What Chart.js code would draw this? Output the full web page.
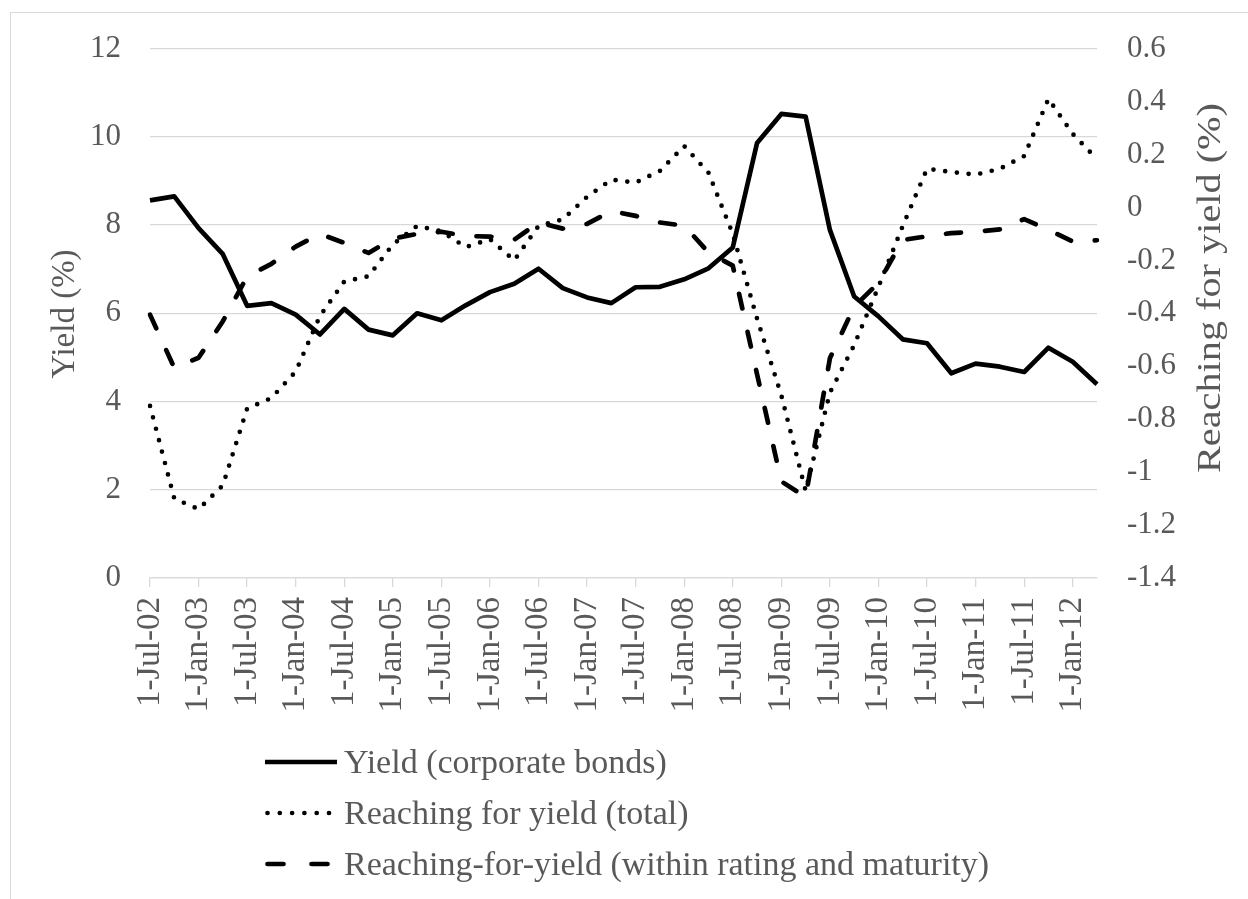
<!DOCTYPE html>
<html>
<head>
<meta charset="utf-8">
<title>Yield and reaching for yield</title>
<script src="https://cdn.jsdelivr.net/npm/chart.js@4.4.1/dist/chart.umd.min.js"></script>
<style>
  html, body { margin: 0; padding: 0; background: #fff; overflow: hidden; }
  #wrap { position: relative; width: 1248px; height: 899px; overflow: hidden; }
  #frame { position: absolute; left: 10px; top: 12px; width: 1300px; height: 1000px; border: 1.5px solid #d9d9d9; box-sizing: border-box; }
  #chart { position: absolute; left: 0; top: 0; }
  #legend { position: absolute; left: 263px; top: 736px; font-family: "Liberation Serif", serif; color: #595959; }
  .row { display: flex; align-items: center; height: 51px; }
  .row svg { flex: none; }
  .row span { font-size: 34px; white-space: nowrap; margin-left: 5px; }
</style>
</head>
<body>
<div id="wrap">
  <div id="frame"></div>
  <canvas id="chart" width="1248" height="740"></canvas>
  <div id="legend"></div>
</div>
<script>
// quarterly observations, labelled every half year on the axis
const categories = [
  "1-Jul-02", "1-Oct-02", "1-Jan-03", "1-Apr-03", "1-Jul-03", "1-Oct-03", "1-Jan-04", "1-Apr-04",
  "1-Jul-04", "1-Oct-04", "1-Jan-05", "1-Apr-05", "1-Jul-05", "1-Oct-05", "1-Jan-06", "1-Apr-06",
  "1-Jul-06", "1-Oct-06", "1-Jan-07", "1-Apr-07", "1-Jul-07", "1-Oct-07", "1-Jan-08", "1-Apr-08",
  "1-Jul-08", "1-Oct-08", "1-Jan-09", "1-Apr-09", "1-Jul-09", "1-Oct-09", "1-Jan-10", "1-Apr-10",
  "1-Jul-10", "1-Oct-10", "1-Jan-11", "1-Apr-11", "1-Jul-11", "1-Oct-11", "1-Jan-12", "1-Apr-12"
];

// Yield (corporate bonds), left axis, %
const yieldCorp = [
  8.56, 8.65, 7.93, 7.34, 6.17, 6.23, 5.97, 5.52, 6.10, 5.63,
  5.50, 6.00, 5.84, 6.18, 6.48, 6.67, 7.01, 6.57, 6.36, 6.23,
  6.59, 6.60, 6.77, 7.02, 7.49, 9.86, 10.52, 10.46, 7.89, 6.38,
  5.93, 5.41, 5.32, 4.64, 4.86, 4.79, 4.67, 5.22, 4.90, 4.39
];

// Reaching for yield (total), right axis, %
const rfyTotal = [
  -0.75, -1.10, -1.14, -1.05, -0.76, -0.72, -0.62, -0.41, -0.28, -0.26,
  -0.14, -0.07, -0.09, -0.15, -0.12, -0.20, -0.07, -0.045, 0.04, 0.105,
  0.094, 0.138, 0.232, 0.131, -0.10, -0.42, -0.71, -1.07, -0.70, -0.52,
  -0.30, -0.07, 0.146, 0.134, 0.124, 0.146, 0.194, 0.41, 0.278, 0.182
];

// Reaching-for-yield (within rating and maturity), right axis, %
const rfyWithin = [
  -0.405, -0.606, -0.568, -0.43, -0.261, -0.213, -0.148, -0.10, -0.134, -0.172,
  -0.118, -0.10, -0.092, -0.108, -0.11, -0.122, -0.057, -0.08, -0.062, -0.014,
  -0.032, -0.057, -0.069, -0.17, -0.22, -0.63, -1.035, -1.094, -0.57, -0.375,
  -0.285, -0.123, -0.109, -0.097, -0.092, -0.083, -0.044, -0.085, -0.129, -0.124
];

const leftTitle = "Yield (%)";
const rightTitle = "Reaching for yield (%)";

const textColor = "#595959";
const gridColor = "#d9d9d9";
const serif = "'Liberation Serif', serif";

// axis titles, both read bottom to top
const axisTitles = {
  id: "axisTitles",
  afterDraw(chart) {
    const c = chart.ctx;
    const area = chart.chartArea;
    c.save();
    c.fillStyle = textColor;
    c.textAlign = "center";
    c.textBaseline = "middle";

    c.font = "33px " + serif;
    c.save();
    c.translate(area.left - 85, 314);
    c.rotate(-Math.PI / 2);
    c.fillText(leftTitle, 0, 0);
    c.restore();

    // the right title runs longer in the original, stretch it along its length
    c.font = "34px " + serif;
    const w = c.measureText(rightTitle).width;
    c.save();
    c.translate(area.right + 114, 288);
    c.rotate(-Math.PI / 2);
    c.scale(370 / w, 1);
    c.fillText(rightTitle, 0, 0);
    c.restore();

    c.restore();
  }
};

// legend rows, one per dataset
const htmlLegend = {
  id: "htmlLegend",
  afterUpdate(chart) {
    const box = document.getElementById("legend");
    box.innerHTML = "";
    chart.data.datasets.forEach(ds => {
      const row = document.createElement("div");
      row.className = "row";
      const lg = ds.legendLine;
      const dash = lg.dash ? ` stroke-dasharray="${lg.dash}"` : "";
      row.innerHTML =
        `<svg width="76" height="20"><line x1="${lg.x1}" y1="10" x2="${lg.x2}" y2="10" stroke="#000" stroke-width="${ds.borderWidth}" stroke-linecap="${lg.cap}"${dash}/></svg>`;
      const span = document.createElement("span");
      span.textContent = ds.label;
      row.appendChild(span);
      box.appendChild(row);
    });
  }
};

const ctx = document.getElementById("chart").getContext("2d");

new Chart(ctx, {
  type: "line",
  data: {
    labels: categories,
    datasets: [
      {
        label: "Yield (corporate bonds)",
        data: yieldCorp,
        yAxisID: "y",
        borderColor: "#000",
        borderWidth: 4.7,
        borderJoinStyle: "round",
        pointRadius: 0,
        tension: 0,
        legendLine: { x1: 2, x2: 74, cap: "butt" }
      },
      {
        label: "Reaching for yield (total)",
        data: rfyTotal,
        yAxisID: "y1",
        borderColor: "#000",
        borderWidth: 4.7,
        borderDash: [0, 11.8],
        borderCapStyle: "round",
        borderJoinStyle: "round",
        pointRadius: 0,
        tension: 0,
        legendLine: { x1: 4.5, x2: 68, cap: "round", dash: "0 12.3" }
      },
      {
        label: "Reaching-for-yield (within rating and maturity)",
        data: rfyWithin,
        yAxisID: "y1",
        borderColor: "#000",
        borderWidth: 4.7,
        borderDash: [15, 24],
        borderCapStyle: "round",
        borderJoinStyle: "round",
        pointRadius: 0,
        tension: 0,
        legendLine: { x1: 4.5, x2: 68, cap: "round", dash: "16 28" }
      }
    ]
  },
  options: {
    responsive: false,
    animation: false,
    layout: { padding: { top: 46, left: 0, right: 0, bottom: 0 } },
    plugins: {
      legend: { display: false },
      tooltip: { enabled: false }
    },
    scales: {
      x: {
        type: "category",
        offset: false,
        grid: {
          drawOnChartArea: false,
          color: c => (c.index % 2 === 0 ? gridColor : "rgba(0,0,0,0)"),
          lineWidth: 1.3,
          tickLength: 9
        },
        border: { color: gridColor, width: 1.3 },
        ticks: {
          autoSkip: false,
          maxRotation: 90,
          minRotation: 90,
          padding: 10,
          color: textColor,
          font: { family: serif, size: 33 },
          callback: (v, i) => (i % 2 === 0 ? categories[i] : "")
        },
        afterFit: s => { s.height = 162; }
      },
      y: {
        position: "left",
        min: 0,
        max: 12,
        ticks: {
          stepSize: 2,
          padding: 29,
          color: textColor,
          font: { family: serif, size: 31 }
        },
        grid: { color: gridColor, lineWidth: 1.3, drawTicks: false },
        border: { display: false },
        afterFit: s => { s.width = 150; }
      },
      y1: {
        position: "right",
        min: -1.4,
        max: 0.6,
        ticks: {
          stepSize: 0.2,
          padding: 30,
          color: textColor,
          font: { family: serif, size: 31 },
          callback: v => String(Math.round(v * 10) / 10)
        },
        grid: { display: false, drawTicks: false },
        border: { display: false },
        afterFit: s => { s.width = 151; }
      }
    }
  },
  plugins: [axisTitles, htmlLegend]
});
</script>
</body>
</html>
